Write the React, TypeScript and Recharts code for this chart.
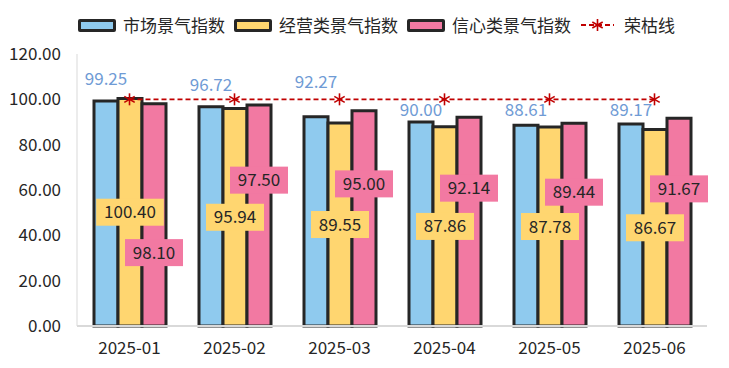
import React from 'react';
import { ComposedChart, Bar, Line, XAxis, YAxis, LabelList } from 'recharts';

const categories = ['2025-01', '2025-02', '2025-03', '2025-04', '2025-05', '2025-06'];
const marketIndex = [99.25, 96.72, 92.27, 90.0, 88.61, 89.17];
const businessIndex = [100.4, 95.94, 89.55, 87.86, 87.78, 86.67];
const confidenceIndex = [98.1, 97.5, 95.0, 92.14, 89.44, 91.67];
const boomLine = [100, 100, 100, 100, 100, 100];
const yTicks = [0, 20, 40, 60, 80, 100, 120];

const seriesNames = ['市场景气指数', '经营类景气指数', '信心类景气指数', '荣枯线'];

const data = categories.map((c, i) => ({
  name: c,
  market: marketIndex[i],
  business: businessIndex[i],
  confidence: confidenceIndex[i],
  line: boomLine[i],
}));

const FONT = '"Noto Sans CJK SC", "Microsoft YaHei", sans-serif';
const BLUE = '#8FCAEE';
const YELLOW = '#FFD670';
const PINK = '#F279A2';
const EDGE = '#262626';
const RED = '#C00000';

const fmt = (v: number) => Number(v).toFixed(2);

const BlueLabel = (p: any) => {
  const { x, y, width, height, value } = p;
  // y of the boom line (value 100) derived from bar geometry
  const pxPerUnit = height / value;
  const base = y + height;
  const lineY = base - boomLine[0] * pxPerUnit;
  let cy = y - 22;
  if (Math.abs(cy - lineY) < 12) {
    cy = cy < lineY - 1 ? lineY - 17 : lineY + 11;
  }
  return (
    <text x={x + width / 2} y={cy + 6} textAnchor="middle" fontSize={17} fill="#6F9BD5" fontFamily={FONT}>
      {fmt(value)}
    </text>
  );
};

const BoxLabel = (p: any, fill: string, frac: number) => {
  const { x, y, width, height, value } = p;
  const cx = x + width / 2;
  const cy = y + height * frac;
  const txt = fmt(value);
  const w = txt.length * 9.6 + 10;
  const h = 27;
  return (
    <g>
      <rect x={cx - w / 2} y={cy - h / 2} width={w} height={h} fill={fill} />
      <text x={cx} y={cy + 6} textAnchor="middle" fontSize={17} fill="#262626" fontFamily={FONT}>
        {txt}
      </text>
    </g>
  );
};

const YellowLabel = (p: any) => BoxLabel(p, YELLOW, 0.5);
const PinkLabel = (p: any) => {
  const i = p.index;
  const frac = businessIndex[i] > confidenceIndex[i] ? 0.67 : 0.34;
  return BoxLabel(p, PINK, frac);
};

const StarDot = (p: any) => {
  const { cx, cy } = p;
  if (cx == null || cy == null) return <g />;
  const r = 6;
  const lines = [90, 30, 150].map((a) => {
    const rad = (a * Math.PI) / 180;
    return [cx - r * Math.cos(rad), cy - r * Math.sin(rad), cx + r * Math.cos(rad), cy + r * Math.sin(rad)];
  });
  return (
    <g>
      {lines.map((l, k) => (
        <line key={k} x1={l[0]} y1={l[1]} x2={l[2]} y2={l[3]} stroke={RED} strokeWidth={1.6} />
      ))}
    </g>
  );
};

const LegendBox = ({ color, label }: { color: string; label: string }) => (
  <div style={{ display: 'flex', alignItems: 'center', marginRight: 9 }}>
    <div
      style={{
        boxSizing: 'border-box',
        width: 38,
        height: 13,
        background: color,
        border: `3px solid ${EDGE}`,
        borderRadius: 2,
        marginRight: 7,
      }}
    />
    <span>{label}</span>
  </div>
);

export default function App() {
  return (
    <div style={{ position: 'absolute', left: 0, top: 0, width: 729, height: 368, background: '#fff', fontFamily: FONT }}>
      <div
        style={{
          position: 'absolute',
          top: 12,
          left: 78,
          display: 'flex',
          fontSize: 17,
          color: '#262626',
          lineHeight: '26px',
        }}
      >
        <LegendBox color={BLUE} label={seriesNames[0]} />
        <LegendBox color={YELLOW} label={seriesNames[1]} />
        <LegendBox color={PINK} label={seriesNames[2]} />
        <div style={{ display: 'flex', alignItems: 'center' }}>
          <svg width={35} height={14} style={{ marginRight: 9 }}>
            <line x1={1} y1={7} x2={34} y2={7} stroke={RED} strokeWidth={1.8} strokeDasharray="5 3" />
            <StarDot cx={17.5} cy={7} />
          </svg>
          <span>{seriesNames[3]}</span>
        </div>
      </div>
      <ComposedChart
        width={729}
        height={368}
        data={data}
        margin={{ top: 54, right: 22, bottom: 12, left: 0 }}
        barCategoryGap={17}
        barGap={0}
      >
        <XAxis
          dataKey="name"
          tick={{ fontSize: 17, fill: '#262626', fontFamily: FONT }}
          tickLine={false}
          axisLine={{ stroke: '#d9d9d9', strokeWidth: 2 }}
          height={30}
          tickMargin={10}
        />
        <YAxis
          domain={[0, 120]}
          ticks={yTicks}
          tickFormatter={fmt}
          tick={{ fontSize: 17, fill: '#262626', fontFamily: FONT }}
          tickLine={false}
          axisLine={{ stroke: '#d9d9d9', strokeWidth: 1 }}
          width={77}
          tickMargin={10}
        />
        <Bar dataKey="market" fill={BLUE} stroke={EDGE} strokeWidth={3} isAnimationActive={false}>
          <LabelList dataKey="market" content={BlueLabel} />
        </Bar>
        <Bar dataKey="business" fill={YELLOW} stroke={EDGE} strokeWidth={3} isAnimationActive={false}>
          <LabelList dataKey="business" content={YellowLabel} />
        </Bar>
        <Bar dataKey="confidence" fill={PINK} stroke={EDGE} strokeWidth={3} isAnimationActive={false}>
          <LabelList dataKey="confidence" content={PinkLabel} />
        </Bar>
        <Line
          dataKey="line"
          stroke={RED}
          strokeWidth={1.8}
          strokeDasharray="5 3"
          dot={<StarDot />}
          activeDot={false}
          isAnimationActive={false}
        />
      </ComposedChart>
    </div>
  );
}
